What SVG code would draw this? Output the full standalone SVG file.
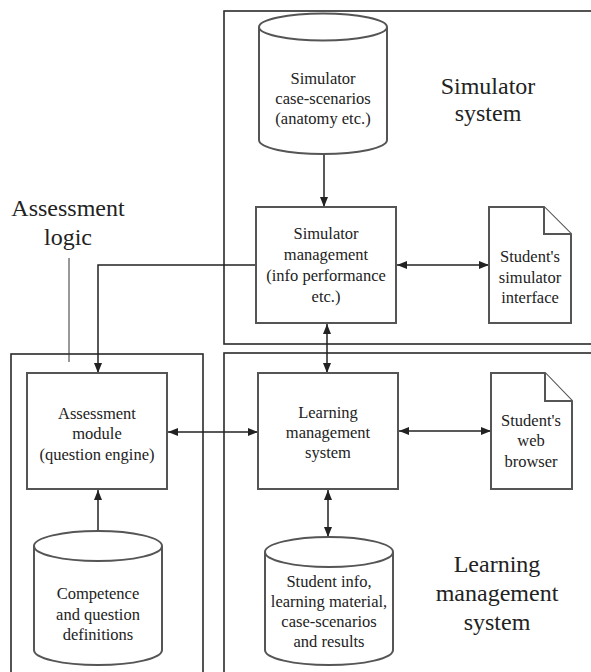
<svg xmlns="http://www.w3.org/2000/svg" width="591" height="672" viewBox="0 0 591 672">
<defs>
<style>
.frame{fill:none;stroke:#2a2a2a;stroke-width:1.6}
.node{fill:#fff;stroke:#555;stroke-width:2}
.conn{fill:none;stroke:#222;stroke-width:1.5}
.t{font-family:"Liberation Serif","Times New Roman",serif;font-size:16.5px;fill:#222;text-anchor:middle}
.lbl{font-family:"Liberation Serif","Times New Roman",serif;font-size:24px;fill:#222;text-anchor:middle}
</style>
<marker id="ah" viewBox="0 0 10 8" refX="10" refY="4" markerWidth="10" markerHeight="8" markerUnits="userSpaceOnUse" orient="auto-start-reverse">
<path d="M0,0 L10,4 L0,8 Z" fill="#222"/>
</marker>
</defs>
<rect width="591" height="672" fill="#fff"/>

<g id="frames">
<rect id="simulator-system-frame" class="frame" x="224" y="11" width="380" height="333"/>
<rect id="lms-frame" class="frame" x="224" y="353" width="380" height="330"/>
<rect id="assessment-frame" class="frame" x="11" y="354" width="192" height="330"/>
</g>

<g id="labels">
<text class="lbl" x="488" y="94">Simulator</text>
<text class="lbl" x="488" y="121">system</text>
<text class="lbl" x="68" y="216">Assessment</text>
<text class="lbl" x="68" y="245">logic</text>
<text class="lbl" x="497" y="572">Learning</text>
<text class="lbl" x="497" y="601">management</text>
<text class="lbl" x="497" y="630">system</text>
</g>

<g id="connectors">
<line class="conn" x1="324" y1="154" x2="324" y2="207" marker-end="url(#ah)"/>
<line class="conn" x1="397" y1="265" x2="489" y2="265" marker-start="url(#ah)" marker-end="url(#ah)"/>
<polyline class="conn" points="256,265 98,265 98,373" marker-end="url(#ah)"/>
<line class="conn" x1="327" y1="324" x2="327" y2="373" marker-start="url(#ah)" marker-end="url(#ah)"/>
<line class="conn" x1="168" y1="432" x2="258" y2="432" marker-start="url(#ah)" marker-end="url(#ah)"/>
<line class="conn" x1="399" y1="431" x2="491" y2="431" marker-start="url(#ah)" marker-end="url(#ah)"/>
<line class="conn" x1="328" y1="490" x2="328" y2="537" marker-start="url(#ah)" marker-end="url(#ah)"/>
<line class="conn" x1="98" y1="531" x2="98" y2="490" marker-end="url(#ah)"/>
<line x1="69" y1="258" x2="69" y2="362" stroke="#333" stroke-width="1"/>
</g>

<g id="sim-scenarios">
<path class="node" d="M259,27 A64,13.5 0 0 1 387,27 L387,140 A64,14 0 0 1 259,140 Z"/>
<path class="node" fill="none" d="M259,27 A64,13.5 0 0 0 387,27"/>
<text class="t" x="323" y="84">Simulator</text>
<text class="t" x="323" y="104">case-scenarios</text>
<text class="t" x="323" y="124">(anatomy etc.)</text>
</g>

<g id="sim-management">
<rect class="node" x="256" y="207" width="140" height="116"/>
<text class="t" x="326" y="239">Simulator</text>
<text class="t" x="326" y="260">management</text>
<text class="t" x="326" y="281">(info performance</text>
<text class="t" x="326" y="302">etc.)</text>
</g>

<g id="sim-interface">
<path class="node" d="M489,207 L544,207 L571,234 L571,323 L489,323 Z"/>
<path class="node" fill="none" d="M544,207 L544,234 L571,234"/>
<text class="t" x="530" y="262">Student's</text>
<text class="t" x="530" y="283">simulator</text>
<text class="t" x="530" y="303">interface</text>
</g>

<g id="assessment-module">
<rect class="node" x="27" y="373" width="140" height="116"/>
<text class="t" x="97" y="419">Assessment</text>
<text class="t" x="97" y="439">module</text>
<text class="t" x="97" y="460">(question engine)</text>
</g>

<g id="competence-db">
<path class="node" d="M34,546 A64,15 0 0 1 162,546 L162,650 A64,15 0 0 1 34,650 Z"/>
<path class="node" fill="none" d="M34,546 A64,15 0 0 0 162,546"/>
<text class="t" x="98" y="599">Competence</text>
<text class="t" x="98" y="620">and question</text>
<text class="t" x="98" y="640">definitions</text>
</g>

<g id="lms">
<rect class="node" x="258" y="373" width="140" height="116"/>
<text class="t" x="328" y="418">Learning</text>
<text class="t" x="328" y="438">management</text>
<text class="t" x="328" y="458">system</text>
</g>

<g id="web-browser">
<path class="node" d="M491,373 L545,373 L572,401 L572,489 L491,489 Z"/>
<path class="node" fill="none" d="M545,373 L545,401 L572,401"/>
<text class="t" x="531" y="426">Student's</text>
<text class="t" x="531" y="446">web</text>
<text class="t" x="531" y="467">browser</text>
</g>

<g id="student-info-db">
<path class="node" d="M265,552 A64,15 0 0 1 393,552 L393,650 A64,15 0 0 1 265,650 Z"/>
<path class="node" fill="none" d="M265,552 A64,15 0 0 0 393,552"/>
<text class="t" x="329" y="587">Student info,</text>
<text class="t" x="329" y="607">learning material,</text>
<text class="t" x="329" y="627">case-scenarios</text>
<text class="t" x="329" y="647">and results</text>
</g>
</svg>
